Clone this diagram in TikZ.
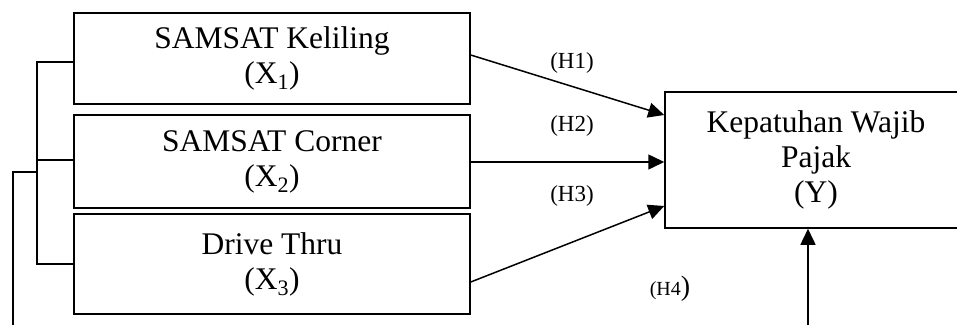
\documentclass[tikz,border=0pt]{standalone}
\usepackage{fontspec}
\setmainfont{Liberation Serif}
\usetikzlibrary{arrows.meta}
\begin{document}
\begin{tikzpicture}[x=1pt,y=-1pt,
  box/.style={draw,line width=1.5pt,rectangle,inner sep=0pt,align=center,font=\fontsize{31.5}{35}\selectfont},
  conn/.style={line width=1.5pt},
  arr/.style={line width=1.5pt,-{Triangle[length=16pt,width=15pt]}},
  hlabel/.style={font=\fontsize{23}{26}\selectfont,inner sep=0pt}]
\useasboundingbox (0,0) rectangle (957,325);
\node[box,minimum width=396pt,minimum height=91pt] (x1) at (272,58.5) {SAMSAT Keliling\\(X\textsubscript{1})};
\node[box,minimum width=396pt,minimum height=93pt] (x2) at (272,161.5) {SAMSAT Corner\\(X\textsubscript{2})};
\node[box,minimum width=396pt,minimum height=100pt] (x3) at (272,264) {Drive Thru\\(X\textsubscript{3})};
\node[box,minimum width=302pt,minimum height=136pt] (y) at (816,160) {Kepatuhan Wajib\\Pajak\\(Y)};
% arrows
\draw[arr] ([yshift=3.5pt]x1.east) -- ([yshift=45pt]y.west);
\draw[arr] ([yshift=-0.5pt]x2.east) -- ([yshift=-2pt]y.west);
\draw[arr] ([yshift=-18pt]x3.east) -- ([yshift=-46pt]y.west);
\coordinate (h4src) at (808,325);
\draw[arr] (h4src) -- (h4src |- y.south);
% bracket
\coordinate (bus) at (37,0);
\coordinate (join) at (37,172);
\coordinate (outer) at (13,325);
\draw[conn] ([yshift=-3.5pt]x1.west) -| (bus |- x3.west) -- (x3.west);
\draw[conn] ([yshift=1.5pt]x2.west) coordinate (t2) -- (bus |- t2);
\draw[conn] (outer) |- (join);
% labels
\node[hlabel] (h1) at (572,63) {(H1)};
\node[hlabel] (h2) at (572,126) {(H2)};
\node[hlabel] (h3) at (572,196) {(H3)};
\node[inner sep=0pt] (h4) at (670,289) {\fontsize{20}{22}\selectfont(H4\fontsize{28}{30}\selectfont)};
\end{tikzpicture}
\end{document}
